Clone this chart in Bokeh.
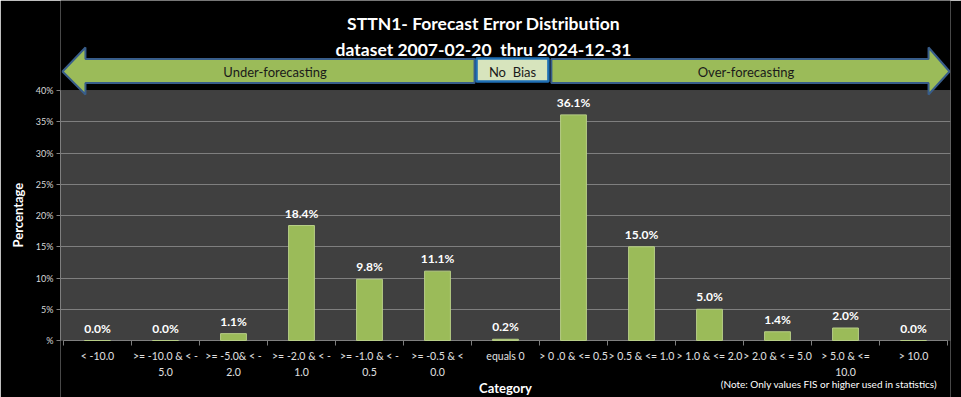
from bokeh.plotting import figure
from bokeh.models import Range1d, ColumnDataSource, FixedTicker, Title
from bokeh.core.properties import value
from bokeh.embed import file_html
from bokeh.resources import INLINE

# ---------------- data ----------------
categories = [
    "< -10.0",
    ">= -10.0 & < -\n5.0",
    ">= -5.0& < -\n2.0",
    ">= -2.0 & < -\n1.0",
    ">= -1.0 & < -\n0.5",
    ">= -0.5 & <\n0.0",
    "equals 0",
    "> 0 .0 & <= 0.5",
    "> 0.5 & <= 1.0",
    "> 1.0 & <= 2.0",
    "> 2.0 & < = 5.0",
    "> 5.0 & <=\n10.0",
    "> 10.0",
]
percentages = [0.0, 0.0, 1.1, 18.4, 9.8, 11.1, 0.2, 36.1, 15.0, 5.0, 1.4, 2.0, 0.0]
y_ticks = [0, 5, 10, 15, 20, 25, 30, 35, 40]
y_tick_labels = ["%", "5%", "10%", "15%", "20%", "25%", "30%", "35%", "40%"]
title_lines = ["STTN1- Forecast Error Distribution",
               "dataset 2007-02-20 \u00a0thru 2024-12-31"]
band_labels = ["Under-forecasting", "No \u00a0Bias", "Over-forecasting"]
x_title = "Category"
y_title = "Percentage"
note_text = "(Note: Only values FIS or higher used in statistics)"

# ---------------- styling constants ----------------
FONT = "Lato"
PAD = 0.044
N = len(categories)
Y_MAX = 40
Y_TOP = 54.4
Y_BOT = -9.12
GREEN = "#9BBB59"
PLOT_BG = "#404040"
GRID = "#7F7F7F"

centers = [i + 0.5 for i in range(N)]
bounds = list(range(N + 1))

p = figure(width=961, height=397,
           x_range=Range1d(-PAD, N + PAD),
           y_range=Range1d(Y_BOT, Y_TOP),
           x_axis_type=None,
           output_backend="svg", toolbar_location=None,
           min_border_left=58, min_border_right=11, min_border_top=0,
           min_border_bottom=0,
           background_fill_color=PLOT_BG, border_fill_color="black",
           outline_line_color=None)

# y axis (real axis, limited to the plot area)
yt = FixedTicker(ticks=y_ticks)
ya = p.yaxis[0]
ya.ticker = yt
ya.major_label_overrides = dict(zip(y_ticks, y_tick_labels))
ya.bounds = (0, Y_MAX)
ya.axis_line_color = GRID
ya.major_tick_line_color = GRID
ya.major_tick_out = 4
ya.major_tick_in = 0
ya.minor_tick_line_color = None
ya.major_label_text_color = "#D9D9D9"
ya.major_label_text_font = FONT
ya.major_label_text_font_size = "9px"
ya.major_label_standoff = 3
p.ygrid[0].ticker = yt
p.ygrid[0].grid_line_color = GRID

p.add_layout(Title(text=y_title, align="left", offset=150, standoff=14,
                   text_color="white", text_font=FONT, text_font_style="bold",
                   text_font_size="13px"), "left")

# black areas above and below the plot area
p.quad(left=[-PAD, -PAD], right=[N + PAD, N + PAD], bottom=[Y_MAX, Y_BOT],
       top=[Y_TOP, 0], fill_color="black", line_color=None)

# x axis line, tick marks at category boundaries, category labels
p.segment(x0=[0], y0=[0], x1=[N], y1=[0], line_color=GRID, line_width=1)
p.segment(x0=bounds, y0=[0] * len(bounds), x1=bounds, y1=[-0.8] * len(bounds),
          line_color=GRID, line_width=1)
p.text(x=centers, y=[-1.55] * N, text=categories, text_align="center",
       text_baseline="top", text_color="#E0E0E0", text_font=value(FONT),
       text_font_size="10.5px", text_line_height=1.3)

# bars and labels
src = ColumnDataSource(dict(x=centers, pct=percentages,
                            lbl=[f"{v:.1f}%" for v in percentages]))
p.vbar(x="x", top="pct", width=0.38, source=src, fill_color=GREEN,
       line_color="#B7CE86", line_width=1)
p.text(x="x", y="pct", text="lbl", source=src, text_align="center",
       text_baseline="bottom", y_offset=-5, text_color="white",
       text_font=value(FONT), text_font_style="bold", text_font_size="12px")

# arrows
hx0, hx1 = 0.3228, 12.721
body_top, body_bot = 45.04, 41.2
head_top, head_bot, tip_y = 46.88, 39.36, 43.04
left_arrow_x = [-0.0147, hx0, hx0, 6.045, 6.045, hx0, hx0]
left_arrow_y = [tip_y, head_top, body_top, body_top, body_bot, body_bot, head_bot]
right_arrow_x = [13.03, hx1, hx1, 7.175, 7.175, hx1, hx1]
right_arrow_y = [tip_y, head_top, body_top, body_top, body_bot, body_bot, head_bot]
for ax, ay in ((left_arrow_x, left_arrow_y), (right_arrow_x, right_arrow_y)):
    p.patch(ax, ay, fill_color=GREEN, line_color="#385D8A", line_width=2)
p.quad(left=6.074, right=7.131, bottom=41.44, top=45.12,
       fill_color="#D7E4BD", line_color="#1F6FB5", line_width=2.5)

p.text(x=[3.11, 6.603, 10.036], y=[tip_y] * 3, text=band_labels,
       text_align="center", text_baseline="middle", text_color="#1A1A1A",
       text_font=value(FONT), text_font_size="13px")

# title
p.text(x=[6.177, 6.177], y=[50.72, 46.64], text=title_lines,
       text_align="center", text_baseline="middle", text_color="white",
       text_font=value(FONT), text_font_style="bold", text_font_size="17.5px")

# x-axis title and note
p.text(x=[6.5], y=[-7.52], text=[x_title], text_align="center",
       text_baseline="middle", text_color="white", text_font=value(FONT),
       text_font_style="bold", text_font_size="13px")
p.text(x=[12.853], y=[-6.88], text=[note_text], text_align="right",
       text_baseline="middle", text_color="white", text_font=value(FONT),
       text_font_size="10px")

open("out.html", "w").write(file_html(p, INLINE))
